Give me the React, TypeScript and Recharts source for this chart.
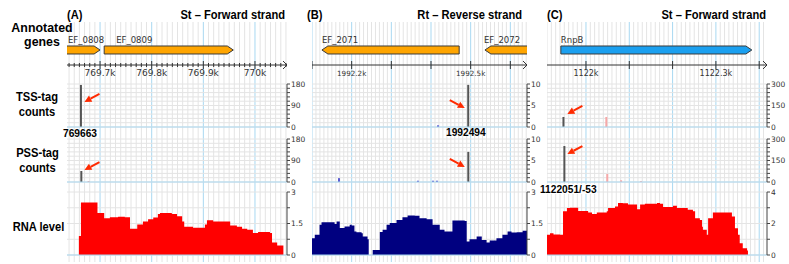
import React from 'react';
import {
  ComposedChart, Bar, Area, XAxis, YAxis, CartesianGrid,
  ReferenceLine, ReferenceArea, ReferenceDot, Cell,
} from 'recharts';

const FONT = '"Liberation Sans", Arial, sans-serif';
const TICK_FONT = '"DejaVu Sans", Verdana, sans-serif';

const C = {
  orange: '#ffa500',
  geneBlue: '#1ba0f0',
  outline: '#3a3a3a',
  minorGrid: '#e4e4e4',
  majorGrid: '#a9d8f1',
  axis: '#444',
  text: '#333',
  peak: '#555',
  arrow: '#ff2a00',
  red: '#ff0000',
  navy: '#000080',
};

// genome windows (bp) and labelled positions
const DOMAIN_A = [769636, 770062];
const DOMAIN_B = [1992100, 1992642];
const DOMAIN_C = [1121910, 1122418];

const MAJOR_A = [769700, 769800, 769900, 770000];
const MAJOR_B = [1992100, 1992200, 1992300, 1992400, 1992500, 1992600];
const MAJOR_C = [1122000, 1122100, 1122200, 1122300, 1122400];

const LABELLED_A = [769700, 769800, 769900, 770000];
const LABELLED_B = [1992200, 1992500];
const LABELLED_C = [1122000, 1122300];

type Gene = { name: string; start: number; end: number; strand: '+' | '-' };
type Spike = { pos: number; v: number; kind: 'peak' | 'minor' };
type Pt = { pos: number; v: number };

const GENES_A: Gene[] = [
  { name: 'EF_0808', start: 769500, end: 769700, strand: '+' },
  { name: 'EF_0809', start: 769708, end: 769958, strand: '+' },
];
const GENES_B: Gene[] = [
  { name: 'EF_2071', start: 1992125, end: 1992471, strand: '-' },
  { name: 'EF_2072', start: 1992536, end: 1992900, strand: '-' },
];
const GENES_C: Gene[] = [
  { name: 'RnpB', start: 1121942, end: 1122383, strand: '+' },
];

const TSS_A: Spike[] = [{ pos: 769663, v: 176, kind: 'peak' }];
const PSS_A: Spike[] = [
  { pos: 769663, v: 46, kind: 'peak' },
  { pos: 769677, v: 3, kind: 'minor' },
];
const TSS_B: Spike[] = [
  { pos: 1992494, v: 9.8, kind: 'peak' },
  { pos: 1992418, v: 0.4, kind: 'minor' },
];
const PSS_B: Spike[] = [
  { pos: 1992494, v: 7, kind: 'peak' },
  { pos: 1992168, v: 0.9, kind: 'minor' },
  { pos: 1992367, v: 0.3, kind: 'minor' },
  { pos: 1992405, v: 0.3, kind: 'minor' },
  { pos: 1992415, v: 0.3, kind: 'minor' },
];
const TSS_C: Spike[] = [
  { pos: 1121949, v: 70, kind: 'peak' },
  { pos: 1122048, v: 70, kind: 'minor' },
  { pos: 1122189, v: 3, kind: 'minor' },
];
const PSS_C: Spike[] = [
  { pos: 1121949, v: 251, kind: 'peak' },
  { pos: 1121956, v: 4, kind: 'minor' },
  { pos: 1122048, v: 56, kind: 'minor' },
  { pos: 1122080, v: 12, kind: 'minor' },
  { pos: 1122126, v: 6, kind: 'minor' },
];

// arrow tip values (in track units)
const ARROW_TSS = { A: 105, B: 4.4, C: 91 };
const ARROW_PSS = { A: 50, B: 3.5, C: 195 };

const RNA_A: Pt[] = [
  { pos: 769636, v: 0 }, { pos: 769659, v: 0.9 }, { pos: 769663, v: 2.5 }, { pos: 769695, v: 2.0 },
  { pos: 769708, v: 1.75 }, { pos: 769719, v: 1.8 }, { pos: 769735, v: 1.82 }, { pos: 769748, v: 1.8 },
  { pos: 769758, v: 1.25 }, { pos: 769772, v: 1.45 }, { pos: 769783, v: 1.6 }, { pos: 769793, v: 1.7 },
  { pos: 769803, v: 1.78 }, { pos: 769812, v: 1.95 }, { pos: 769816, v: 2.0 }, { pos: 769839, v: 1.95 },
  { pos: 769849, v: 1.85 }, { pos: 769859, v: 1.6 }, { pos: 769863, v: 1.35 }, { pos: 769880, v: 1.3 },
  { pos: 769894, v: 1.3 }, { pos: 769903, v: 1.45 }, { pos: 769907, v: 1.65 }, { pos: 769919, v: 1.6 },
  { pos: 769952, v: 1.4 }, { pos: 769965, v: 1.35 }, { pos: 769975, v: 1.25 }, { pos: 769985, v: 1.2 },
  { pos: 769996, v: 1.05 }, { pos: 770006, v: 1.1 }, { pos: 770029, v: 1.05 }, { pos: 770033, v: 0.6 },
  { pos: 770043, v: 0.45 }, { pos: 770055, v: 0 }, { pos: 770062, v: 0 },
];
const RNA_B: Pt[] = [
  { pos: 1992100, v: 0.8 }, { pos: 1992107, v: 0.96 }, { pos: 1992119, v: 1.44 }, { pos: 1992124, v: 1.56 },
  { pos: 1992157, v: 1.48 }, { pos: 1992162, v: 1.6 }, { pos: 1992170, v: 1.28 }, { pos: 1992182, v: 1.36 },
  { pos: 1992195, v: 1.44 }, { pos: 1992200, v: 1.4 }, { pos: 1992207, v: 1.12 }, { pos: 1992212, v: 1.08 },
  { pos: 1992225, v: 1.04 }, { pos: 1992228, v: 0.88 }, { pos: 1992240, v: 0.75 }, { pos: 1992243, v: 0 },
  { pos: 1992253, v: 0.24 }, { pos: 1992271, v: 1.1 }, { pos: 1992278, v: 1.2 }, { pos: 1992288, v: 1.44 },
  { pos: 1992296, v: 1.52 }, { pos: 1992313, v: 1.67 }, { pos: 1992328, v: 1.8 }, { pos: 1992341, v: 1.88 },
  { pos: 1992359, v: 1.87 }, { pos: 1992371, v: 1.75 }, { pos: 1992389, v: 1.7 }, { pos: 1992404, v: 1.44 },
  { pos: 1992422, v: 1.2 }, { pos: 1992434, v: 1.12 }, { pos: 1992454, v: 1.64 }, { pos: 1992485, v: 1.62 },
  { pos: 1992490, v: 0.64 }, { pos: 1992497, v: 0.75 }, { pos: 1992515, v: 0.88 }, { pos: 1992528, v: 0.72 },
  { pos: 1992540, v: 0.6 }, { pos: 1992548, v: 0.69 }, { pos: 1992565, v: 0.8 }, { pos: 1992580, v: 0.96 },
  { pos: 1992593, v: 1.12 }, { pos: 1992603, v: 1.07 }, { pos: 1992616, v: 1.08 }, { pos: 1992631, v: 1.16 },
  { pos: 1992642, v: 1.16 },
];
const RNA_C: Pt[] = [
  { pos: 1121910, v: 1.28 }, { pos: 1121917, v: 1.38 }, { pos: 1121925, v: 1.3 }, { pos: 1121940, v: 1.28 },
  { pos: 1121947, v: 2.77 }, { pos: 1121956, v: 2.98 }, { pos: 1121963, v: 3.0 }, { pos: 1121982, v: 2.8 },
  { pos: 1122005, v: 2.7 }, { pos: 1122014, v: 2.6 }, { pos: 1122025, v: 2.7 }, { pos: 1122048, v: 2.77 },
  { pos: 1122051, v: 2.98 }, { pos: 1122067, v: 3.08 }, { pos: 1122074, v: 3.3 }, { pos: 1122085, v: 3.28 },
  { pos: 1122097, v: 3.2 }, { pos: 1122118, v: 2.9 }, { pos: 1122125, v: 3.2 }, { pos: 1122136, v: 3.26 },
  { pos: 1122164, v: 3.3 }, { pos: 1122171, v: 3.26 }, { pos: 1122178, v: 3.04 }, { pos: 1122201, v: 3.13 },
  { pos: 1122210, v: 2.98 }, { pos: 1122235, v: 2.87 }, { pos: 1122247, v: 2.77 }, { pos: 1122252, v: 2.34 },
  { pos: 1122263, v: 2.23 }, { pos: 1122268, v: 1.8 }, { pos: 1122270, v: 1.6 }, { pos: 1122279, v: 1.28 },
  { pos: 1122282, v: 2.34 }, { pos: 1122293, v: 2.7 }, { pos: 1122328, v: 2.7 }, { pos: 1122337, v: 2.45 },
  { pos: 1122344, v: 1.7 }, { pos: 1122351, v: 1.28 }, { pos: 1122355, v: 0.74 }, { pos: 1122362, v: 0.43 },
  { pos: 1122372, v: 0.28 }, { pos: 1122374, v: 0 }, { pos: 1122418, v: 0 },
];

const LABEL_DX: Record<string, number> = { EF_0808: 1, EF_0809: 12, EF_2071: 0, EF_2072: -1, RnpB: 0 };

const stepTicks = (lo: number, hi: number, step: number) => {
  const out: number[] = [];
  for (let v = Math.ceil(lo / step) * step; v <= hi + 1e-9; v += step) out.push(+v.toFixed(4));
  return out;
};

const PANELS = [
  {
    id: 'A', left: 67, plotW: 220, domain: DOMAIN_A, majors: MAJOR_A, labelled: LABELLED_A,
    axisTicks: stepTicks(DOMAIN_A[0], DOMAIN_A[1], 10), tickFont: 9, geneColor: C.orange, genes: GENES_A,
    tss: TSS_A, pss: PSS_A, rna: RNA_A, rnaColor: C.red, minorColor: '#f08a8a', arrowDir: 1,
    countMax: 180, countTicks: stepTicks(0, 180, 18), countLabels: [0, 90, 180],
    rnaMax: 3, rnaTicks: [0, 0.75, 1.5, 2.25, 3], rnaLabels: [0, 1.5, 3],
  },
  {
    id: 'B', left: 312, plotW: 215, domain: DOMAIN_B, majors: MAJOR_B, labelled: LABELLED_B,
    axisTicks: MAJOR_B, tickFont: 7.2, geneColor: C.orange, genes: GENES_B,
    tss: TSS_B, pss: PSS_B, rna: RNA_B, rnaColor: C.navy, minorColor: '#5b5bd0', arrowDir: -1,
    countMax: 10, countTicks: stepTicks(0, 10, 1), countLabels: [0, 5, 10],
    rnaMax: 3, rnaTicks: [0, 0.75, 1.5, 2.25, 3], rnaLabels: [0, 1.5, 3],
  },
  {
    id: 'C', left: 547, plotW: 220, domain: DOMAIN_C, majors: MAJOR_C, labelled: LABELLED_C,
    axisTicks: MAJOR_C, tickFont: 8, geneColor: C.geneBlue, genes: GENES_C,
    tss: TSS_C, pss: PSS_C, rna: RNA_C, rnaColor: C.red, minorColor: '#f6a8a8', arrowDir: 1,
    countMax: 300, countTicks: stepTicks(0, 300, 30), countLabels: [0, 150, 300],
    rnaMax: 4, rnaTicks: [0, 1, 2, 3, 4], rnaLabels: [0, 2, 4],
  },
];

/* eslint-disable @typescript-eslint/no-explicit-any */
function GeneArrow(props: any) {
  const { x, y, width, height, gene, color, clipPath } = props;
  const head = 6;
  const pts = gene.strand === '+'
    ? [[x, y], [x + width - head, y], [x + width, y + height / 2], [x + width - head, y + height], [x, y + height]]
    : [[x + head, y], [x + width, y], [x + width, y + height], [x + head, y + height], [x, y + height / 2]];
  const lx = Math.max(x, 0) + (LABEL_DX[gene.name] ?? 1);
  return (
    <g clipPath={clipPath}>
      <polygon points={pts.map((p) => p.join(',')).join(' ')} fill={color} stroke={C.outline} strokeWidth={1} />
      <text x={lx} y={y - 3} fontSize={8.5} fontFamily={TICK_FONT} fill={C.text}>{gene.name}</text>
    </g>
  );
}

function AxisTick(props: any) {
  const { x, y, payload, p } = props;
  const v = payload.value;
  const major = p.majors.includes(v);
  const label = p.labelled.includes(v);
  return (
    <g>
      {major
        ? <line x1={x} x2={x} y1={y - 4} y2={y + 4} stroke="#333" />
        : <line x1={x} x2={x} y1={y - 2} y2={y + 2} stroke="#333" />}
      {label && (
        <text x={x} y={y + 10.5} textAnchor="middle" fontSize={p.tickFont} fontFamily={TICK_FONT} fill={C.text}>
          {`${v / 1000}k`}
        </text>
      )}
    </g>
  );
}

const Chevron = (s: any) => (
  <polyline points={`${s.cx - 4},${s.cy - 4} ${s.cx},${s.cy} ${s.cx - 4},${s.cy + 4}`} fill="none" stroke="#333" />
);

const arrowShape = (dir: number) => (s: any) => {
  const tipX = s.cx + dir * 3.5;
  const tipY = s.cy;
  const tailX = tipX + dir * 15;
  const tailY = tipY - 8;
  const ang = Math.atan2(tipY - tailY, tipX - tailX);
  const hl = 7;
  const hw = 3.5;
  const bx = tipX - hl * Math.cos(ang);
  const by = tipY - hl * Math.sin(ang);
  const px = -Math.sin(ang) * hw;
  const py = Math.cos(ang) * hw;
  return (
    <g>
      <line x1={tailX} y1={tailY} x2={bx} y2={by} stroke={C.arrow} strokeWidth={2} />
      <polygon points={`${tipX},${tipY} ${bx + px},${by + py} ${bx - px},${by - py}`} fill={C.arrow} />
    </g>
  );
};

function GridBg({ p }: { p: any }) {
  const minors = stepTicks(p.domain[0], p.domain[1], 10).filter((v) => !p.majors.includes(v));
  return (
    <div style={{ position: 'absolute', left: p.left, top: 22, width: p.plotW + 1, height: 240 }}>
      <ComposedChart width={p.plotW + 1} height={240} data={[]} margin={{ top: 0, right: 1, bottom: 0, left: 0 }}>
        <XAxis type="number" dataKey="pos" domain={p.domain} hide allowDataOverflow />
        <YAxis type="number" domain={[0, 1]} hide allowDataOverflow />
        {minors.map((v) => <ReferenceLine key={`m${v}`} x={v} stroke={C.minorGrid} ifOverflow="visible" />)}
        {p.majors.map((v: number) => <ReferenceLine key={`M${v}`} x={v} stroke={C.majorGrid} ifOverflow="visible" />)}
      </ComposedChart>
    </div>
  );
}

function GeneTrack({ p }: { p: any }) {
  const W = p.plotW + 6;
  const H = 63;
  return (
    <div style={{ position: 'absolute', left: p.left, top: 22, width: W, height: H }}>
      <ComposedChart width={W} height={H} data={[]} margin={{ top: 0, right: 6, bottom: 0, left: 0 }}>
        <XAxis
          type="number" dataKey="pos" domain={p.domain} allowDataOverflow ticks={p.axisTicks} interval={0}
          height={20} tickSize={0} tickMargin={0} tickLine={false} axisLine={{ stroke: '#333' }}
          tick={(t: any) => <AxisTick {...t} p={p} />}
        />
        <YAxis type="number" domain={[0, 1]} hide allowDataOverflow />
        {p.genes.map((g: Gene) => (
          <ReferenceArea
            key={g.name} x1={g.start} x2={g.end} y1={0.256} y2={0.442} ifOverflow="hidden"
            shape={(s: any) => <GeneArrow {...s} gene={g} color={p.geneColor} />}
          />
        ))}
        <ReferenceDot x={p.domain[1]} y={0} ifOverflow="visible" shape={Chevron} />
      </ComposedChart>
    </div>
  );
}

function yAxisProps(max: number, ticks: number[], labels: number[]) {
  return {
    orientation: 'right' as const, width: 26, type: 'number' as const, domain: [0, max], ticks, interval: 0,
    allowDataOverflow: true, tickSize: 3, tickMargin: 1,
    axisLine: { stroke: C.axis }, tickLine: { stroke: C.axis },
    tick: { fontSize: 7.5, fill: C.text, fontFamily: TICK_FONT },
    tickFormatter: (v: number) => (labels.includes(v) ? String(v) : ''),
  };
}

function CountTrack({ p, data, top, arrowAt }: { p: any; data: Spike[]; top: number; arrowAt: number }) {
  const W = p.plotW + 26;
  const H = 53;
  const peak = data.find((d) => d.kind === 'peak')!;
  return (
    <div style={{ position: 'absolute', left: p.left, top: top - 5, width: W, height: H }}>
      <ComposedChart width={W} height={H} data={data} margin={{ top: 5, right: 0, bottom: 5, left: 0 }}>
        <CartesianGrid vertical={false} stroke={C.minorGrid} />
        <XAxis type="number" dataKey="pos" domain={p.domain} hide allowDataOverflow />
        <YAxis {...yAxisProps(p.countMax, p.countTicks, p.countLabels)} />
        <ReferenceLine y={0} stroke={C.majorGrid} />
        <Bar dataKey="v" barSize={2} isAnimationActive={false}>
          {data.map((d, i) => <Cell key={i} fill={d.kind === 'peak' ? C.peak : p.minorColor} />)}
        </Bar>
        <ReferenceDot x={peak.pos} y={arrowAt} ifOverflow="visible" shape={arrowShape(p.arrowDir)} />
      </ComposedChart>
    </div>
  );
}

function RnaTrack({ p }: { p: any }) {
  const W = p.plotW + 26;
  const H = 73;
  return (
    <div style={{ position: 'absolute', left: p.left, top: 192 - 5, width: W, height: H }}>
      <ComposedChart width={W} height={H} data={p.rna} margin={{ top: 5, right: 0, bottom: 5, left: 0 }}>
        <CartesianGrid vertical={false} stroke={C.minorGrid} />
        <XAxis type="number" dataKey="pos" domain={p.domain} hide allowDataOverflow />
        <YAxis {...yAxisProps(p.rnaMax, p.rnaTicks, p.rnaLabels)} />
        <ReferenceLine y={0} stroke={C.majorGrid} />
        <Area
          type="stepAfter" dataKey="v" stroke="none" fill={p.rnaColor} fillOpacity={1}
          baseValue={0} isAnimationActive={false} dot={false} activeDot={false}
        />
      </ComposedChart>
    </div>
  );
}

const NText = ({ x, y, anchor = 'start', size = 13.6, children }: any) => (
  <text
    transform={`translate(${x},${y}) scale(0.82,1)`} textAnchor={anchor}
    fontFamily={FONT} fontWeight="bold" fontSize={size} fill="#000"
  >
    {children}
  </text>
);

const BText = ({ x, y, anchor = 'start', size = 10.2, children }: any) => (
  <text x={x} y={y} textAnchor={anchor} fontFamily={FONT} fontWeight="bold" fontSize={size} fill="#000">
    {children}
  </text>
);

export default function App() {
  return (
    <div style={{ position: 'absolute', left: 0, top: 0, width: 789, height: 264, background: '#fff', overflow: 'hidden', fontFamily: FONT }}>
      {PANELS.map((p) => <GridBg key={`g${p.id}`} p={p} />)}
      {PANELS.map((p) => <GeneTrack key={`t${p.id}`} p={p} />)}
      {PANELS.map((p) => (
        <React.Fragment key={`c${p.id}`}>
          <CountTrack p={p} data={p.tss} top={84} arrowAt={(ARROW_TSS as any)[p.id]} />
          <CountTrack p={p} data={p.pss} top={139} arrowAt={(ARROW_PSS as any)[p.id]} />
          <RnaTrack p={p} />
        </React.Fragment>
      ))}
      <svg width={789} height={264} style={{ position: 'absolute', left: 0, top: 0, pointerEvents: 'none' }}>
        <BText x={42} y={32} anchor="middle" size={12.4}>Annotated</BText>
        <BText x={42} y={46} anchor="middle" size={12.4}>genes</BText>
        <NText x={37} y={101} anchor="middle">TSS-tag</NText>
        <NText x={37} y={116} anchor="middle">counts</NText>
        <NText x={37.5} y={157} anchor="middle">PSS-tag</NText>
        <NText x={37.5} y={172} anchor="middle">counts</NText>
        <NText x={38.5} y={231} anchor="middle">RNA level</NText>

        <NText x={67} y={19}>(A)</NText>
        <NText x={285} y={19} anchor="end">St – Forward strand</NText>
        <NText x={307} y={19}>(B)</NText>
        <NText x={522} y={19} anchor="end">Rt – Reverse strand</NText>
        <NText x={547} y={19}>(C)</NText>
        <NText x={766} y={19} anchor="end">St – Forward strand</NText>

        <BText x={63} y={137}>769663</BText>
        <BText x={446} y={136}>1992494</BText>
        <rect x={539} y={184} width={58} height={10} fill="#fff" />
        <BText x={540} y={193}>1122051/-53</BText>
      </svg>
    </div>
  );
}
